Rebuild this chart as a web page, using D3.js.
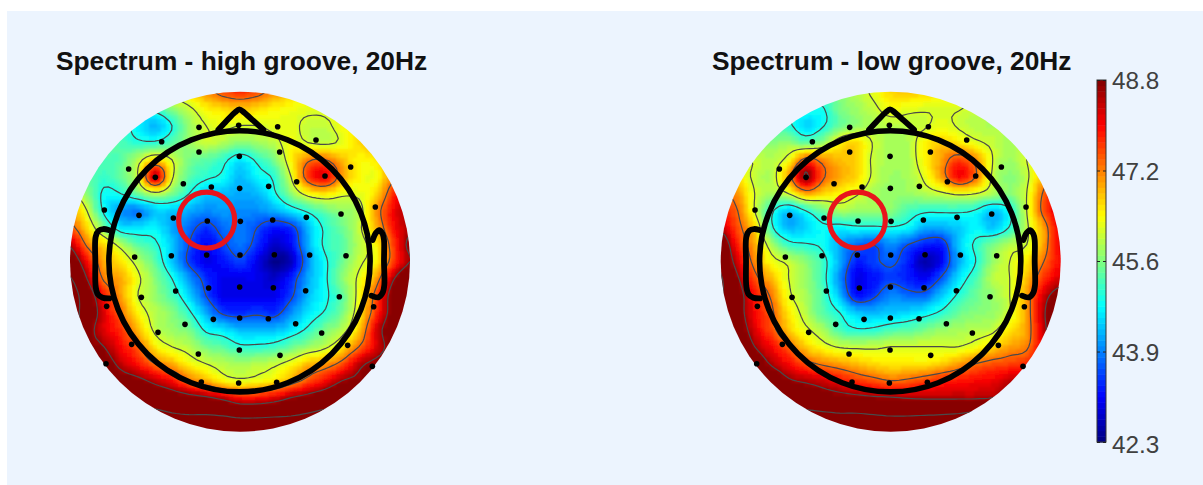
<!DOCTYPE html>
<html><head><meta charset="utf-8">
<script src="https://cdn.jsdelivr.net/npm/d3@7"></script>
<style>html,body{margin:0;padding:0;background:#fff;overflow:hidden}svg{display:block}</style>
</head><body><svg id="chart" width="1203" height="485"></svg>
<script>
const titles = ["Spectrum - high groove, 20Hz", "Spectrum - low groove, 20Hz"];
const tickValues = [42.3, 43.925, 45.55, 47.175, 48.8];
const tickLabels = ["42.3", "43.9", "45.6", "47.2", "48.8"];
const contourLevels = [43.6, 44.9, 46.1, 47.3, 48.6, 49.9];
const gridColumns = [60,111,162,213,264,315,366,417,468,519,570,621,672,723,774,825,876,927,978,1029,1080];
const gridRows = [35,86,137,188,239,290,341,392,443,494,545,596,647,698,749,800,851,902,953,1004,1055];
const electrodeX = [447,566,683,335,798,447,689,568,236,316,825,902,400,484,569,656,740,163,267,370,472,571,668,769,873,976,254,364,470,570,673,779,888,377,476,569,670,767,868,274,170,971,405,490,569,655,737,324,815,245,893,568,445,690,168,967,454,566,680];
const electrodeY = [142,136,140,185,180,216,216,229,267,292,288,261,311,321,325,319,305,390,406,414,423,424,420,412,402,381,531,527,525,525,524,525,527,633,624,621,623,632,650,652,679,680,733,718,714,716,731,757,759,793,796,810,822,826,851,859,906,909,907];
const highGroove = [
[46,46,46,46,46,46,46.2,46.6,47.1,47.5,47.7,47.5,47.1,46.7,46.4,46.2,46,46,46,46,46],
[45,45,45,45,45,45.1,45.6,46,46.4,46.6,46.7,46.6,46.4,46.3,46.2,46.2,46.3,46.4,46.4,46.4,46.4],
[45.3,45.3,45.3,45.1,44.7,44.3,44.9,45.7,46.1,46.2,46.1,46.1,46.2,46.2,46,46,46.3,46.6,46.6,46.6,46.6],
[45.4,45.4,45.4,45.2,45,45,45.3,45.7,46,45.85,45.6,45.75,45.95,46.3,46.1,46,46.2,46.6,46.8,46.8,46.8],
[45.2,45.2,45.2,45.3,45.9,46.6,46.1,45.5,45.3,45.05,44.6,45,45.5,46.4,47.2,47.3,46.8,46.4,46.5,47,47],
[45.5,45.4,45.1,45.4,46.1,48.4,46.2,45.3,45,44.8,44.3,44.7,45,46.1,47.6,48.1,47,46.4,46.3,47.2,47.8],
[46.3,45.6,44.8,44.9,45.4,45.9,45.5,44.9,44.4,44.3,44.2,44.3,44.8,45.6,46.3,46.5,46.2,46.2,46.6,47.7,48.3],
[47,46.1,44.8,44.1,43.9,44.4,44.4,44.2,44,44.1,44,44,44.2,44.6,45,45.4,45.7,45.9,47,48,48.6],
[47.5,46.6,45.5,44.6,44.6,44.7,44.2,43.8,43.4,43.8,43.9,43.6,43.2,43.4,44.3,45,45.4,46,46.8,47.9,48.5],
[48.5,47.2,46.6,45.9,45.3,45,44.4,43.6,43.1,43.5,43.85,43.4,42.8,43.1,44.2,45,45.3,45.9,46.4,47.6,48.8],
[49.3,48,46.9,46.5,45.9,45.3,44.4,43.5,43,43.2,43.5,43,42.4,42.7,44,44.8,45.4,46,46.4,47.6,48.6],
[50,48.6,47.2,46.9,46.2,45.6,44.9,44.1,43.4,43,43,43,42.8,43.3,44.2,44.8,45.6,46.2,47,48.5,49.5],
[50.5,49.2,47.9,47,46.1,45.7,45.2,44.5,43.6,43,43,43,43,43.5,44.3,44.8,45.3,46.3,47.5,49,50],
[50.5,49.3,48.2,47.3,46.4,45.9,45.6,45,44.2,43.5,43.4,43.5,43.4,44,44.6,44.95,45.5,46.4,47.7,49,50],
[50.5,49,48.2,47.7,46.8,46,45.7,45.5,44.8,44.6,44.3,44.3,44.3,44.6,45,45.5,45.9,46.7,48.2,49.2,50],
[50,49,48.6,48,47.4,46.5,46.1,45.9,45.5,45.3,45,45,45.1,45.4,45.7,46,46.5,47.3,48.2,49,50],
[50,49.5,49,48.4,47.9,47.3,46.9,46.4,46.1,45.9,45.8,45.9,46,46.3,46.8,47,47.5,48.4,48.8,49,50],
[50,49.5,49.3,49,48.8,48.4,48,47.3,46.9,46.4,46.2,46.3,46.5,47,47.5,48,48.6,48.8,49,49,50],
[50.5,50,50,49.7,49.5,49.3,49.1,48.9,48.7,48.4,48,48,48.2,48.6,48.9,49.2,49.4,49.5,49.5,49.5,50],
[51,51,51,50.5,50.3,50.2,50,49.9,49.9,49.8,49.6,49.6,49.7,49.8,50,50.2,50.3,50.5,50.5,51,51],
[51,51,51,51,51,51,51,51,51,51,51,51,51,51,51,51,51,51,51,51,51]
];
const lowGroove = [
[45,45,45,45,45,45,45.3,45.6,45.9,46.2,46.6,46.7,46.6,46.5,46.3,46.2,46.2,46.2,46.2,46.2,46.2],
[45,45,45,45,45,44.9,44.85,45.5,45.75,46,46.3,46.2,46.15,46.15,46.12,46,45.9,45.9,45.9,45.9,45.9],
[45.3,45.3,45.2,45.1,45,44.5,44.85,45.4,45.7,45.85,45.9,45.95,46.05,46.25,46.05,45.9,45.85,45.9,46,46.1,46.1],
[45.7,45.7,45.6,45.6,45.7,45.4,45.7,46.4,46.6,46.05,45.8,45.85,46.4,46.7,46.5,46.2,46,45.8,46,46.2,46.2],
[46.4,46.3,46.05,45.9,46.3,47.5,47.1,46.8,46.6,46,45.8,45.85,46.4,47,47.6,47.1,46.1,45.75,46.1,46.5,46.8],
[46.8,46.5,46,45.9,47,48.7,47.4,46.9,46.6,46,45.75,45.8,46.2,47,48,47.3,46,45.6,46,46.9,47.8],
[47.4,47,46.1,45.8,46.1,46.9,46.6,46.4,46.15,45.8,45.7,45.7,45.85,46,46.2,46.1,45.8,45.6,46.1,47.4,48.2],
[47.8,47.3,46.1,45,44.4,44.9,45.4,45.8,45.7,45.7,45.6,45.2,45,45,45,44.85,44.4,44.85,46.1,47.5,48.3],
[48.4,47.5,46.6,45,44.3,44.5,44.8,44.7,44.8,44.8,44.85,44.7,44.2,44.2,44.4,44.7,44.4,44.95,46,47,48.2],
[49.3,47.8,46.9,45.8,45.1,44.95,44.8,44.2,43.8,43.6,44,43.6,43.3,43.3,44.4,45,45.5,45.9,46.1,47,48.2],
[49.6,48.2,47.1,46.3,46,45.6,45.1,44.2,43.3,43.5,43.7,43.3,42.6,43.1,44.2,44.9,45.7,46.1,46.5,47.3,48],
[50,48.7,47.5,46.8,46.1,45.7,45.1,44,43,43.2,43.5,43.3,43.1,43.7,44.6,45.2,45.9,46.1,46.8,47.7,48.3],
[50,49,47.9,47.2,46.2,45.8,45.2,44.3,43.2,43.5,44,43.8,43.8,44.4,45,45.4,45.7,46.1,47,48.3,49],
[50,49,48,47.4,46.5,45.9,45.3,44.9,44.4,44.3,44.4,44.5,44.7,45,45.4,45.6,45.7,46.1,47,48.5,49.5],
[50,49.2,48.2,47.5,46.7,46.2,45.8,45.2,44.95,45,45.2,45.3,45.5,45.7,45.8,45.9,46,46.5,47,48.4,49.5],
[50,49.5,48.6,48,47.4,46.7,46.3,46.05,46,46,46.1,46.1,46.1,46.1,46.1,46.3,46.6,47,47.2,48.3,49.5],
[50,49.7,49.2,48.5,48,47.5,47.2,47,46.8,46.6,46.5,46.5,46.5,46.7,47,47.3,47.5,47.6,47.8,48.5,49.5],
[50,49.8,49.5,49.3,48.7,48.5,48.3,48,47.7,47.5,47.3,47.4,47.6,47.8,47.9,48,48.1,48.4,48.6,49,49.5],
[50.5,50,50,49.7,49.4,49.2,49,48.9,48.8,48.7,48.65,48.55,48.5,48.5,48.5,48.5,48.6,49,49.3,49.5,50],
[51,51,51,50.5,50.3,50.2,50.1,50,50,49.9,49.8,49.8,49.85,49.9,50,50.2,50.4,50.5,50.5,51,51],
[51,51,51,51,51,51,51,51,51,51,51,51,51,51,51,51,51,51,51,51,51]
];
const jetStops = ["#000080","#0000ff","#00ffff","#ffff00","#ff0000","#800000"];
const jetPositions = [0,0.125,0.375,0.625,0.875,1];
const valueMin = 42.3, valueMax = 48.8;

const svg = d3.select("#chart");
svg.append("rect").attr("x",7).attr("y",11).attr("width",1196).attr("height",474).attr("fill","#ecf4fe");
const defs = svg.append("defs");
defs.append("filter").attr("id","soft").attr("x","-5%").attr("y","-5%").attr("width","110%").attr("height","110%")
  .append("feGaussianBlur").attr("stdDeviation",0.9);

const jet = d3.scaleLinear()
  .domain(jetPositions.map(p => valueMin + p*(valueMax-valueMin)))
  .range(jetStops).clamp(true);
const quant = v => {
  const t = Math.max(0,Math.min(63,Math.floor((v-valueMin)/(valueMax-valueMin)*64)));
  return jet(valueMin+(t+0.5)/64*(valueMax-valueMin));
};

// resample the read grid to the display raster (Catmull-Rom surface)
const factor = 4;
function cr(a,b,c,d,t){return 0.5*((2*b)+(-a+c)*t+(2*a-5*b+4*c-d)*t*t+(-a+3*b-3*c+d)*t*t*t);}
function surface(rows){
  const n = rows.length, m = rows[0].length, W=(m-1)*factor+1, H=(n-1)*factor+1;
  const at=(r,c)=>rows[Math.max(0,Math.min(n-1,r))][Math.max(0,Math.min(m-1,c))];
  const out=new Float64Array(W*H);
  for(let j=0;j<H;j++){const r=Math.floor(j/factor),tr=j/factor-r;
    for(let i=0;i<W;i++){const c=Math.floor(i/factor),tc=i/factor-c;
      const col=[-1,0,1,2].map(dr=>cr(at(r+dr,c-1),at(r+dr,c),at(r+dr,c+1),at(r+dr,c+2),tc));
      out[j*W+i]=cr(col[0],col[1],col[2],col[3],tr);
    }}
  return {W,H,values:out};
}

function drawHead(rows, cx, title, titleX, idx){
  const cy = 261.7, R = 170;
  const sx = d3.scaleLinear().domain([60,1080]).range([cx-R,cx+R]);
  const sy = d3.scaleLinear().domain([35,1055]).range([cy-R,cy+R]);
  const g = svg.append("g");
  defs.append("clipPath").attr("id","clip"+idx).append("circle").attr("cx",cx).attr("cy",cy).attr("r",R);
  const {W,H,values} = surface(rows);
  const ix = d3.scaleLinear().domain([0,W-1]).range(d3.extent(gridColumns).map(sx));
  const iy = d3.scaleLinear().domain([0,H-1]).range(d3.extent(gridRows).map(sy));
  const clipped = g.append("g").attr("clip-path",`url(#clip${idx})`);
  const cells=[];
  for(let j=0;j<H;j++)for(let i=0;i<W;i++)cells.push({i,j,v:values[j*W+i]});
  const cw = ix(1)-ix(0), ch = iy(1)-iy(0);
  clipped.append("g").attr("filter","url(#soft)").attr("shape-rendering","crispEdges").selectAll("rect").data(cells).join("rect")
    .attr("x",d=>ix(d.i)-cw/2).attr("y",d=>iy(d.j)-ch/2)
    .attr("width",cw+0.6).attr("height",ch+0.6)
    .attr("fill",d=>quant(d.v));
  const proj = d3.geoTransform({point(x,y){this.stream.point(ix(x-0.5),iy(y-0.5));}});
  const path = d3.geoPath(proj);
  const contours = d3.contours().size([W,H]).smooth(true).thresholds(contourLevels)(Array.from(values));
  clipped.append("g").selectAll("path").data(contours).join("path")
    .attr("d",path).attr("fill","none").attr("stroke","#4a4a4a").attr("stroke-width",1.2);

  // head outline
  const hx = 239.5-240+cx, hy = 261.3;
  g.append("circle").attr("cx",hx).attr("cy",hy).attr("r",130.6).attr("fill","none").attr("stroke","#000").attr("stroke-width",5.6);
  const line = d3.line().x(d=>sx(d[0])).y(d=>sy(d[1])).curve(d3.curveCatmullRom);
  const parts = [
    [[505,149],[530,122],[555,97],[568,88],[582,97],[610,122],[640,149]],
    [[176,450],[160,447],[146,452],[137,470],[136,545],[137,620],[143,642],[158,653],[178,655]],
    [[968,480],[978,458],[988,450],[998,462],[1002,480],[1002,545],[1003,615],[998,638],[985,652],[964,647]]
  ];
  g.selectAll(".part").data(parts).join("path").attr("class","part")
    .attr("d",line).attr("fill","none").attr("stroke","#000").attr("stroke-width",5.8)
    .attr("stroke-linejoin","round").attr("stroke-linecap","round");
  // electrodes
  g.selectAll(".el").data(electrodeX.map((x,i)=>[x,electrodeY[i]])).join("circle").attr("class","el")
    .attr("cx",d=>sx(d[0])).attr("cy",d=>sy(d[1])).attr("r",2.8).attr("fill","#000");
  // highlight
  g.append("circle").attr("cx",sx(470)).attr("cy",sy(420)).attr("r",28).attr("fill","none").attr("stroke","#e8141c").attr("stroke-width",5.2);
  svg.append("text").attr("x",titleX).attr("y",69.5).text(title)
    .attr("font-family","Liberation Sans, Arial, sans-serif").attr("font-weight","700").attr("font-size",26.3).attr("fill","#111");
}
drawHead(highGroove,240,titles[0],56,0);
drawHead(lowGroove,890.7,titles[1],712,1);

// colour bar
const barY = d3.scaleLinear().domain([valueMin,valueMax]).range([442,80]);
const bar = svg.append("g");
const barLevels = d3.range(64).map(i=>valueMin+(i+0.5)/64*(valueMax-valueMin));
const step = (valueMax-valueMin)/64;
bar.selectAll("rect").data(barLevels).join("rect")
  .attr("x",1097).attr("width",9)
  .attr("y",d=>barY(d+step/2)).attr("height",d=>barY(d-step/2)-barY(d+step/2)+0.5)
  .attr("fill",d=>jet(d));
bar.append("rect").attr("x",1097).attr("y",80).attr("width",9).attr("height",362).attr("fill","none").attr("stroke","#333").attr("stroke-width",1);
const axis = d3.axisRight(barY).tickValues(tickValues).tickSize(0).tickPadding(6).tickFormat((d,i)=>tickLabels[i]);
const ag = svg.append("g").attr("transform","translate(1106,0)").call(axis);
ag.select(".domain").remove();
ag.selectAll("text").attr("font-family","Liberation Sans, Arial, sans-serif").attr("font-size",24.3).attr("fill","#404040")
  .attr("dy",(d,i)=>i===0?"0.45em":"0.36em");
ag.selectAll(".tick").append("line").attr("x1",-9).attr("x2",-6).attr("stroke","#222");
ag.selectAll(".tick").append("line").attr("x1",-3).attr("x2",0).attr("stroke","#222");
</script></body></html>
